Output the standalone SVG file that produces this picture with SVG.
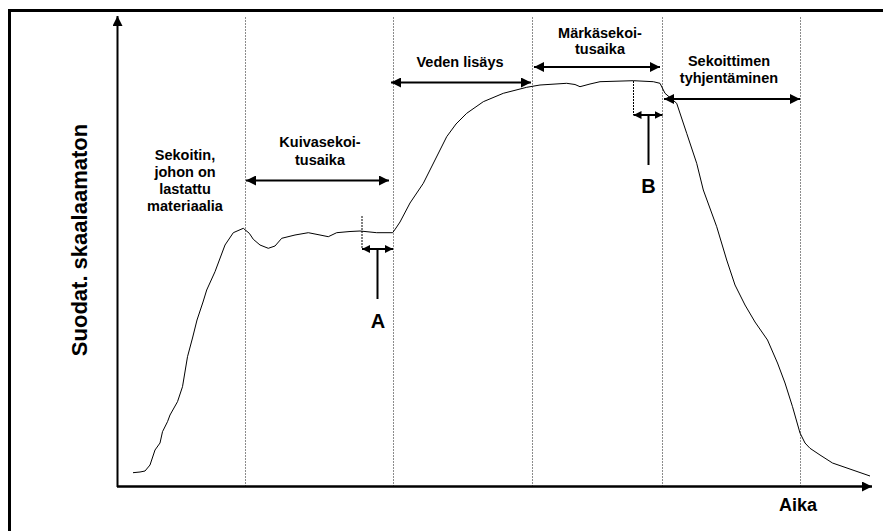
<svg xmlns="http://www.w3.org/2000/svg" width="883" height="531" viewBox="0 0 883 531">
<style>
.t{font-family:"Liberation Sans",Arial,sans-serif;font-weight:bold;font-size:14.5px;fill:#000;text-anchor:middle}
.big{font-size:20px}
.grid{stroke:#8c8c8c;stroke-width:1;stroke-dasharray:2 1;fill:none}
.dbl{stroke:#000;stroke-width:2;fill:none;marker-start:url(#ah);marker-end:url(#ah)}
.sm{stroke:#000;stroke-width:2;fill:none;marker-start:url(#ahs);marker-end:url(#ahs)}
.tick{stroke:#000;stroke-width:1;stroke-dasharray:2 1;fill:none}
</style>
<defs>
<marker id="ah" viewBox="0 0 10 10" refX="10" refY="5" markerUnits="userSpaceOnUse" markerWidth="11" markerHeight="10" orient="auto-start-reverse"><path d="M0,0 L10,5 L0,10 z" fill="#000"/></marker>
<marker id="ahs" viewBox="0 0 10 10" refX="10" refY="5" markerUnits="userSpaceOnUse" markerWidth="8" markerHeight="8" orient="auto-start-reverse"><path d="M0,0 L10,5 L0,10 z" fill="#000"/></marker>
<marker id="axh" viewBox="0 0 10 10" refX="10" refY="5" markerUnits="userSpaceOnUse" markerWidth="12" markerHeight="10" orient="auto"><path d="M0,0 L10,5 L0,10 z" fill="#000"/></marker>
</defs>
<rect width="883" height="531" fill="#fff"/>
<rect id="frame" x="9.5" y="10.5" width="900" height="600" fill="none" stroke="#000" stroke-width="3"/>
<g id="grid">
<line class="grid" x1="245.5" y1="17" x2="245.5" y2="486"/>
<line class="grid" x1="393.5" y1="17" x2="393.5" y2="486"/>
<line class="grid" x1="532.5" y1="17" x2="532.5" y2="486"/>
<line class="grid" x1="662.5" y1="17" x2="662.5" y2="486"/>
<line class="grid" x1="800.5" y1="17" x2="800.5" y2="486"/>
</g>
<g id="axes">
<line x1="117.5" y1="487" x2="117.5" y2="16" stroke="#000" stroke-width="2" marker-end="url(#axh)"/>
<line x1="117" y1="486.5" x2="872" y2="486.5" stroke="#000" stroke-width="2.5" marker-end="url(#axh)"/>
<text class="t" x="798" y="511" style="font-size:18px">Aika</text>
<text class="t" transform="translate(87,240) rotate(-90)" style="font-size:22px">Suodat. skaalaamaton</text>
</g>
<g id="curve">
<polyline fill="none" stroke="#000" stroke-width="1" stroke-linejoin="round" points="133,472.7 140,472 145,471 150,465 155,450 160,443 162.5,431.7 167.5,421.7 170,415 177.5,401.7 182.5,386.7 187.5,356.7 192.5,338 197,320 203,302 206.7,290 215,271.7 225,245 233.3,232.7 243.3,228.3 249.3,233.3 253.3,239.3 260,245 268.3,248.3 275,246 281.7,238.3 295,235 308.3,232.7 320,235 328.3,236.7 336.7,232.7 350,231.5 360,231 376.7,232.7 392.7,232.7 396,228 400,222 410,203 423.3,183.3 435,160 446.7,136.7 456,124 466.7,113.3 483.3,101.7 503.3,93.3 526.7,87.3 540,85 566.7,83.3 575,84.5 580,86.7 590,84 600,81.7 633.3,80.7 653.3,81.7 660,83.3 665,93.3 676.7,103.3 686.7,133.3 696.7,163.3 703.3,190 716.7,226.7 726.7,260 735,285 745,305 755,322 767.5,340 777.5,363 785,383 792.5,406.7 800,433 805,443 810,448.3 820,455 832.5,463 870,476"/>
</g>
<g id="connectors">
<line class="dbl" x1="246" y1="180.5" x2="389" y2="180.5"/>
<line class="dbl" x1="391" y1="82.5" x2="531" y2="82.5"/>
<line class="dbl" x1="534" y1="67" x2="660" y2="67"/>
<line class="dbl" x1="664" y1="99" x2="800" y2="99"/>
<line class="tick" x1="362" y1="216" x2="362" y2="249"/>
<line class="sm" x1="362" y1="249" x2="393" y2="249"/>
<line x1="377.5" y1="250" x2="377.5" y2="299" stroke="#000" stroke-width="2"/>
<line class="tick" x1="633.5" y1="81" x2="633.5" y2="115"/>
<line class="sm" x1="633.5" y1="115" x2="662.5" y2="115"/>
<line x1="648.5" y1="116" x2="648.5" y2="165" stroke="#000" stroke-width="2"/>
</g>
<g id="phase-loaded">
<text class="t" x="185" y="160">Sekoitin,</text>
<text class="t" x="185" y="177">johon on</text>
<text class="t" x="185" y="194">lastattu</text>
<text class="t" x="185" y="211">materiaalia</text>
</g>
<g id="phase-dry">
<text class="t" x="320" y="147">Kuivasekoi-</text>
<text class="t" x="320" y="165">tusaika</text>
</g>
<g id="phase-water">
<text class="t" x="460" y="67">Veden lisäys</text>
</g>
<g id="phase-wet">
<text class="t" x="600" y="38">Märkäsekoi-</text>
<text class="t" x="600" y="54">tusaika</text>
</g>
<g id="phase-empty">
<text class="t" x="729" y="66">Sekoittimen</text>
<text class="t" x="729" y="83">tyhjentäminen</text>
</g>
<g id="label-A"><text class="t big" x="378" y="328">A</text></g>
<g id="label-B"><text class="t big" x="648.5" y="193">B</text></g>
</svg>
